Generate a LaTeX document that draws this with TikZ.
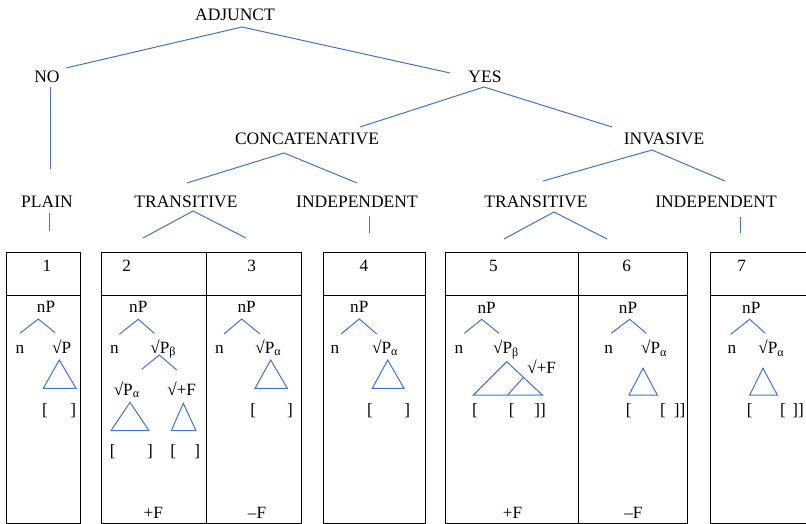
\documentclass[tikz,border=0pt]{standalone}
\usepackage{fontspec}
\setmainfont{Liberation Serif}
\definecolor{treeblue}{HTML}{4472C4}
\newcommand{\rtP}[1]{√P\textsubscript{#1}}
\begin{document}
\begin{tikzpicture}[x=1pt,y=-1pt,
  lbl/.style={inner sep=0pt,anchor=base,font=\fontsize{17.5}{20}\selectfont},
  sm/.style={inner sep=0pt,anchor=base,font=\fontsize{17.2}{20}\selectfont},
  br/.style={draw=treeblue,line width=1pt},
  tri/.style={draw=treeblue,line width=1pt,line join=miter},
  cell/.style={draw=black,line width=1pt}]
\useasboundingbox (0,0) rectangle (806,524);
\clip (0,0) rectangle (806,524);

% ---------- classification tree ----------
\node[lbl] (adj)  at (235,21)  {ADJUNCT};
\node[lbl] (no)   at (47,83)   {NO};
\node[lbl] (yes)  at (485,83)  {YES};
\node[lbl] (conc) at (307,145) {CONCATENATIVE};
\node[lbl] (inv)  at (664,145) {INVASIVE};
\node[lbl] (plain) at (47,207) {PLAIN};
\node[lbl] (ctr)  at (186,207) {TRANSITIVE};
\node[lbl] (cind) at (357,207) {INDEPENDENT};
\node[lbl] (itr)  at (536,207) {TRANSITIVE};
\node[lbl] (iind) at (716,207) {INDEPENDENT};

\coordinate (adj-b) at (242,27);
\coordinate (no-t) at (66,68);
\coordinate (yes-t) at (450,73);
\coordinate (no-b) at (50.5,87);
\coordinate (plain-t) at (50.5,169);
\coordinate (yes-b) at (484,87);
\coordinate (conc-t) at (360,127);
\coordinate (inv-t) at (612,127);
\coordinate (conc-b) at (284,153);
\coordinate (ctr-t) at (187,183);
\coordinate (cind-t) at (357,183);
\coordinate (inv-b) at (652,150);
\coordinate (itr-t) at (543,181);
\coordinate (iind-t) at (725,181);
\coordinate (plain-b) at (49.5,213);
\coordinate (plain-e) at (49.5,231);
\coordinate (ctr-b) at (193,211);
\coordinate (ctr-l) at (143,238);
\coordinate (ctr-r) at (246,238);
\coordinate (cind-b) at (369.5,216);
\coordinate (cind-e) at (369.5,233);
\coordinate (itr-b) at (554,212);
\coordinate (itr-l) at (504,239);
\coordinate (itr-r) at (607,239);
\coordinate (iind-b) at (740,217);
\coordinate (iind-e) at (740,233);

\draw[br] (no-t) -- (adj-b) -- (yes-t);
\draw[br] (no-b) -- (plain-t);
\draw[br] (conc-t) -- (yes-b) -- (inv-t);
\draw[br] (ctr-t) -- (conc-b) -- (cind-t);
\draw[br] (itr-t) -- (inv-b) -- (iind-t);
\draw[br] (plain-b) -- (plain-e);
\draw[br] (ctr-l) -- (ctr-b) -- (ctr-r);
\draw[br] (cind-b) -- (cind-e);
\draw[br] (itr-l) -- (itr-b) -- (itr-r);
\draw[br] (iind-b) -- (iind-e);

% ---------- cells ----------
\draw[cell] (6,252.5) rectangle (80.5,523);
\draw[cell] (6,295) -- (80.5,295);
\draw[cell] (101,252.5) rectangle (301.8,523);
\draw[cell] (101,295) -- (301.8,295);
\draw[cell] (206.5,252.5) -- (206.5,523);
\draw[cell] (323.3,252.5) rectangle (425.7,523);
\draw[cell] (323.3,295) -- (425.7,295);
\draw[cell] (445,252.5) rectangle (687.4,523);
\draw[cell] (445,295) -- (687.4,295);
\draw[cell] (578.4,252.5) -- (578.4,523);
\draw[cell] (710.5,252.5) rectangle (830,523);
\draw[cell] (710.5,295) -- (830,295);

% ---------- cell 1 ----------
\node[sm] (h1) at (47,271) {1};
\node[sm] (np1) at (46,312) {nP};
\node[sm] (n1) at (20,353) {n};
\node[sm] (rp1) at (61.7,353) {√P};
\coordinate (a1) at (38.3,319);
\coordinate (l1) at (20,333.3);
\coordinate (r1) at (55,332.7);
\draw[br] (l1) -- (a1) -- (r1);
\draw[tri] (59.3,360) -- (43.3,388.3) -- (76,388.3) -- cycle;
\node[sm] (o1) at (45,415) {[};
\node[sm] (c1) at (73.3,415) {]};

% ---------- cell 2 ----------
\node[sm] (h2) at (126.7,271) {2};
\node[sm] (np2) at (138.3,312) {nP};
\node[sm] (n2) at (114.3,353) {n};
\node[sm] (rpb2) at (163.3,353) {\rtP{β}};
\coordinate (a2) at (138.3,319.3);
\coordinate (l2) at (119.3,334.3);
\coordinate (r2) at (154.3,333.3);
\draw[br] (l2) -- (a2) -- (r2);
\coordinate (sa2) at (159.3,355);
\coordinate (sl2) at (141.7,369.3);
\coordinate (sr2) at (176.7,370);
\draw[br] (sl2) -- (sa2) -- (sr2);
\node[sm] (rpa2) at (126.7,395) {\rtP{α}};
\node[sm] (rf2) at (181.7,395) {√+F};
\draw[tri] (130,402.3) -- (111,430.7) -- (149,430.7) -- cycle;
\draw[tri] (183.3,403.3) -- (171.3,430.7) -- (196,430.7) -- cycle;
\node[sm] (o2a) at (112.7,456) {[};
\node[sm] (c2a) at (150,456) {]};
\node[sm] (o2b) at (173.3,456) {[};
\node[sm] (c2b) at (197.3,456) {]};
\node[sm] (f2) at (153.3,518) {+F};

% ---------- cell 3 ----------
\node[sm] (h3) at (251.7,271) {3};
\node[sm] (np3) at (246.7,312) {nP};
\node[sm] (n3) at (219.3,353) {n};
\node[sm] (rpa3) at (268.3,353) {\rtP{α}};
\coordinate (a3) at (241.7,319);
\coordinate (l3) at (224,334);
\coordinate (r3) at (260,334);
\draw[br] (l3) -- (a3) -- (r3);
\draw[tri] (270.7,360) -- (255,388.3) -- (287.3,388.3) -- cycle;
\node[sm] (o3) at (253.3,415) {[};
\node[sm] (c3) at (290,415) {]};
\node[sm] (f3) at (257,518) {–F};

% ---------- cell 4 ----------
\node[sm] (h4) at (364,271) {4};
\node[sm] (np4) at (359.3,312) {nP};
\node[sm] (n4) at (335,353) {n};
\node[sm] (rpa4) at (385,353) {\rtP{α}};
\coordinate (a4) at (359.3,319);
\coordinate (l4) at (341,334);
\coordinate (r4) at (376.7,334);
\draw[br] (l4) -- (a4) -- (r4);
\draw[tri] (387.7,360) -- (372.3,388.3) -- (404,388.3) -- cycle;
\node[sm] (o4) at (370,415) {[};
\node[sm] (c4) at (407.3,415) {]};

% ---------- cell 5 ----------
\node[sm] (h5) at (493.3,271) {5};
\node[sm] (np5) at (486.7,313) {nP};
\node[sm] (n5) at (459,353.5) {n};
\node[sm] (rpb5) at (506,353.5) {\rtP{β}};
\coordinate (a5) at (481.7,319.3);
\coordinate (l5) at (464.3,333.3);
\coordinate (r5) at (499,333.3);
\draw[br] (l5) -- (a5) -- (r5);
\draw[tri] (506.7,361.7) -- (473.3,395) -- (542.3,395) -- cycle;
\draw[br] (507.7,395) -- (523.4,377.3);
\node[sm] (rf5) at (541.7,373) {√+F};
\node[sm] (o5a) at (475,415) {[};
\node[sm] (o5b) at (511.7,415) {[};
\node[sm] (c5) at (540,415) {]]};
\node[sm] (f5) at (512.6,518) {+F};

% ---------- cell 6 ----------
\node[sm] (h6) at (626.7,271) {6};
\node[sm] (np6) at (628,313) {nP};
\node[sm] (n6) at (608.7,353.5) {n};
\node[sm] (rpa6) at (654,353.5) {\rtP{α}};
\coordinate (a6) at (629.7,319.3);
\coordinate (l6) at (611.3,333.3);
\coordinate (r6) at (646.3,333.3);
\draw[br] (l6) -- (a6) -- (r6);
\draw[tri] (643,368.3) -- (629,395) -- (657.3,395) -- cycle;
\node[sm] (o6a) at (628.7,415) {[};
\node[sm] (o6b) at (663,415) {[};
\node[sm] (c6) at (679.7,415) {]]};
\node[sm] (f6) at (633.4,518) {–F};

% ---------- cell 7 ----------
\node[sm] (h7) at (741.7,271) {7};
\node[sm] (np7) at (751.3,313) {nP};
\node[sm] (n7) at (732,353.5) {n};
\node[sm] (rpa7) at (771.3,353.5) {\rtP{α}};
\coordinate (a7) at (749.7,319.3);
\coordinate (l7) at (730.7,334.3);
\coordinate (r7) at (765.3,333.3);
\draw[br] (l7) -- (a7) -- (r7);
\draw[tri] (763,368.3) -- (749.7,395) -- (777.3,395) -- cycle;
\node[sm] (o7a) at (749.7,415) {[};
\node[sm] (o7b) at (783,415) {[};
\node[sm] (c7) at (798,415) {]]};
\end{tikzpicture}
\end{document}
